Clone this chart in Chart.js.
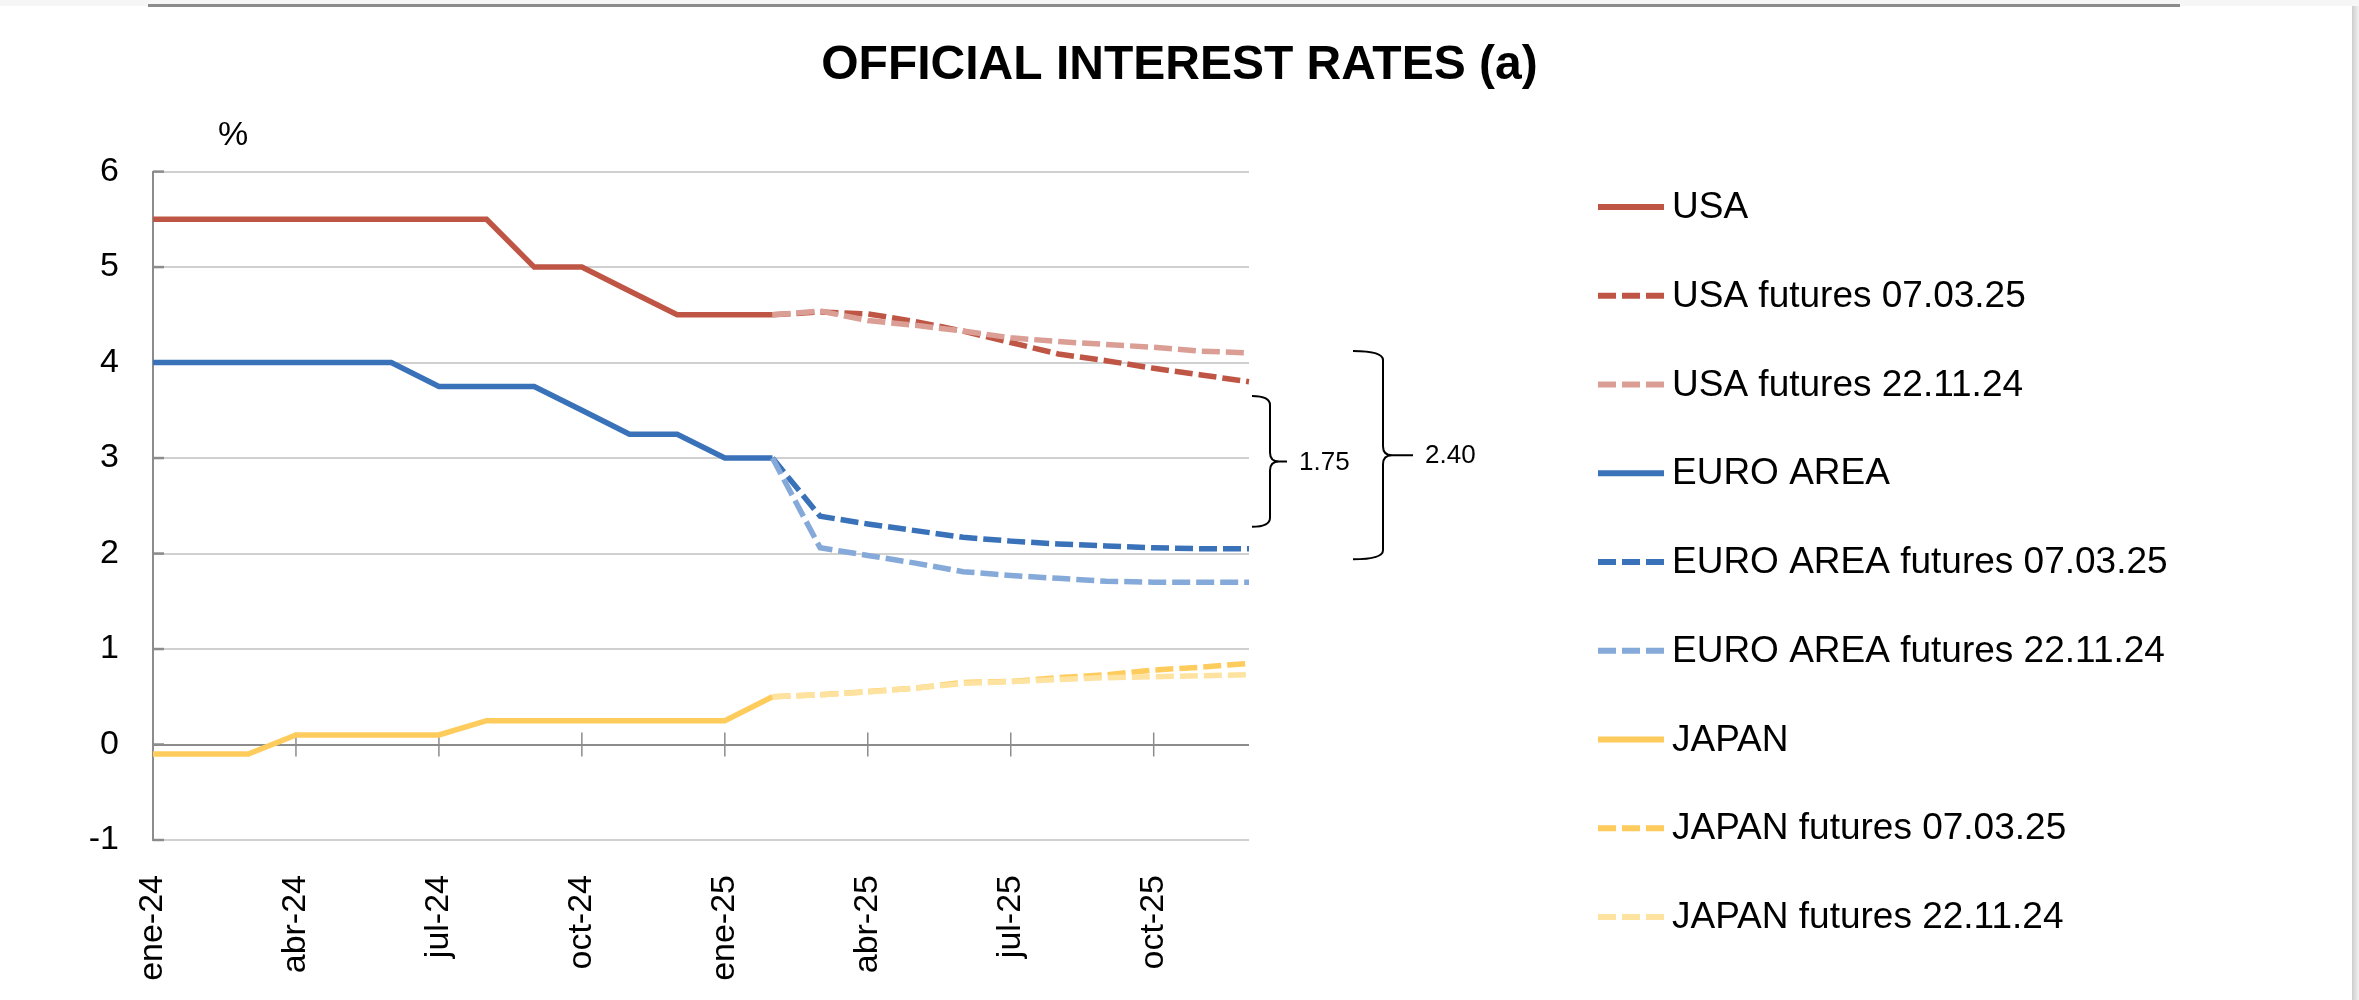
<!DOCTYPE html>
<html>
<head>
<meta charset="utf-8">
<script src="https://cdn.jsdelivr.net/npm/chart.js@4.4.1/dist/chart.umd.min.js"></script>
<style>
  html, body { margin: 0; padding: 0; background: #fff; }
  #wrap { width: 2359px; height: 1000px; }
</style>
</head>
<body>
<div id="wrap"><canvas id="chart" width="2359" height="1000"></canvas></div>
<script>
const months = ['ene-24', 'feb-24', 'mar-24', 'abr-24', 'may-24', 'jun-24', 'jul-24', 'ago-24', 'sep-24', 'oct-24', 'nov-24', 'dic-24',
                'ene-25', 'feb-25', 'mar-25', 'abr-25', 'may-25', 'jun-25', 'jul-25', 'ago-25', 'sep-25', 'oct-25', 'nov-25', 'dic-25'];

// spot rates, jan-24 .. feb-25
const usa   = [5.5, 5.5, 5.5, 5.5, 5.5, 5.5, 5.5, 5.5, 5.0, 5.0, 4.75, 4.5, 4.5, 4.5];
const euro  = [4.0, 4.0, 4.0, 4.0, 4.0, 4.0, 3.75, 3.75, 3.75, 3.5, 3.25, 3.25, 3.0, 3.0];
const japan = [-0.1, -0.1, -0.1, 0.1, 0.1, 0.1, 0.1, 0.25, 0.25, 0.25, 0.25, 0.25, 0.25, 0.5];

// futures curves, feb-25 .. dic-25
const usa_fut_0703   = [4.50, 4.53, 4.51, 4.43, 4.33, 4.21, 4.09, 4.02, 3.94, 3.87, 3.80];
const usa_fut_2211   = [4.50, 4.54, 4.44, 4.39, 4.33, 4.26, 4.22, 4.19, 4.16, 4.12, 4.10];
const euro_fut_0703  = [3.00, 2.39, 2.31, 2.24, 2.17, 2.13, 2.10, 2.08, 2.06, 2.05, 2.05];
const euro_fut_2211  = [3.00, 2.06, 1.98, 1.90, 1.81, 1.77, 1.74, 1.71, 1.70, 1.70, 1.70];
const japan_fut_0703 = [0.50, 0.52, 0.555, 0.59, 0.65, 0.66, 0.70, 0.73, 0.78, 0.81, 0.85];
const japan_fut_2211 = [0.50, 0.52, 0.55, 0.59, 0.64, 0.66, 0.68, 0.70, 0.71, 0.72, 0.73];

// spread annotations on the right of the plot
const spread_labels = ['1.75', '2.40'];

const FONT = '"Liberation Sans", Arial, Helvetica, sans-serif';
const futures_start = months.indexOf('feb-25');

const pad_futures = (values) => Array(futures_start).fill(null).concat(values);

const series = [
  { label: 'USA', data: usa, color: '#BF5645', dashed: false },
  { label: 'USA futures 07.03.25', data: pad_futures(usa_fut_0703), color: '#BF5645', dashed: true },
  { label: 'USA futures 22.11.24', data: pad_futures(usa_fut_2211), color: '#DA9E95', dashed: true },
  { label: 'EURO AREA', data: euro, color: '#3A72B9', dashed: false },
  { label: 'EURO AREA futures 07.03.25', data: pad_futures(euro_fut_0703), color: '#3A72B9', dashed: true },
  { label: 'EURO AREA futures 22.11.24', data: pad_futures(euro_fut_2211), color: '#85AAD9', dashed: true },
  { label: 'JAPAN', data: japan, color: '#FECC5C', dashed: false },
  { label: 'JAPAN futures 07.03.25', data: pad_futures(japan_fut_0703), color: '#FECC5C', dashed: true },
  { label: 'JAPAN futures 22.11.24', data: pad_futures(japan_fut_2211), color: '#FEE29F', dashed: true },
];

const datasets = series.map((s, i) => ({
  label: s.label,
  data: s.data,
  borderColor: s.color,
  backgroundColor: s.color,
  borderWidth: 5.5,
  borderDash: s.dashed ? [18, 6] : [],
  borderCapStyle: 'butt',
  pointRadius: 0,
  tension: 0,
  fill: false,
  spanGaps: false,
  order: -i,  // later series on top, like the original
}));

const draw_brace = (ctx, x_left, x_spine, x_tip, y_top, y_bottom) => {
  const y_mid = (y_top + y_bottom) / 2;
  const r = 9;
  ctx.beginPath();
  ctx.moveTo(x_left, y_top);
  ctx.quadraticCurveTo(x_spine, y_top, x_spine, y_top + r);
  ctx.lineTo(x_spine, y_mid - r);
  ctx.quadraticCurveTo(x_spine, y_mid, x_spine + r, y_mid);
  ctx.lineTo(x_tip, y_mid);
  ctx.moveTo(x_spine + r, y_mid);
  ctx.quadraticCurveTo(x_spine, y_mid, x_spine, y_mid + r);
  ctx.lineTo(x_spine, y_bottom - r);
  ctx.quadraticCurveTo(x_spine, y_bottom, x_left, y_bottom);
  ctx.stroke();
};

const decor = {
  id: 'decor',
  beforeDraw(chart) {
    const { ctx, width, height } = chart;
    ctx.save();
    ctx.fillStyle = '#f6f6f6';
    ctx.fillRect(0, 0, width, height);
    ctx.fillStyle = '#ffffff';
    ctx.fillRect(0, 6, 2352, height - 6);
    const shade = ctx.createLinearGradient(2352, 0, width, 0);
    shade.addColorStop(0, '#cdcdcd');
    shade.addColorStop(1, '#f2f2f2');
    ctx.fillStyle = shade;
    ctx.fillRect(2352, 6, width - 2352, height - 6);
    ctx.fillStyle = '#8c8c8c';
    ctx.fillRect(148, 4, 2032, 3);
    ctx.restore();
  },
  beforeDatasetsDraw(chart) {
    const { ctx, chartArea: area, scales: { x, y } } = chart;
    ctx.save();
    ctx.strokeStyle = '#8c8c8c';
    ctx.lineWidth = 2.5;
    for (let v = y.min; v <= y.max; v++) {
      const py = y.getPixelForValue(v);
      ctx.beginPath();
      ctx.moveTo(area.left, py);
      ctx.lineTo(area.left + 11, py);
      ctx.stroke();
    }
    const y0 = y.getPixelForValue(0);
    ctx.lineWidth = 1.5;
    months.forEach((m, i) => {
      if (i === 0 || i % 3 !== 0) return;
      const px = x.getPixelForValue(i);
      ctx.beginPath();
      ctx.moveTo(px, y0 - 12);
      ctx.lineTo(px, y0 + 12);
      ctx.stroke();
    });
    ctx.restore();
  },
  afterDraw(chart) {
    const { ctx, chartArea: area, scales: { y } } = chart;
    ctx.save();

    // unit label
    ctx.fillStyle = '#000';
    ctx.font = `34px ${FONT}`;
    ctx.textAlign = 'center';
    ctx.textBaseline = 'middle';
    ctx.fillText('%', 233, 136);

    // spread braces
    ctx.strokeStyle = '#000';
    ctx.lineWidth = 2;
    ctx.font = `26px ${FONT}`;
    ctx.textAlign = 'left';
    const braces = [
      { top: 3.65, bottom: 2.28, left: 3, spine: 21, tip: 38 },
      { top: 4.12, bottom: 1.94, left: 104, spine: 134, tip: 164 },
    ];
    braces.forEach((b, i) => {
      const y_top = y.getPixelForValue(b.top);
      const y_bottom = y.getPixelForValue(b.bottom);
      draw_brace(ctx, area.right + b.left, area.right + b.spine, area.right + b.tip, y_top, y_bottom);
      ctx.fillText(spread_labels[i], area.right + b.tip + 12, (y_top + y_bottom) / 2 + 1);
    });

    // legend
    ctx.font = `37px ${FONT}`;
    chart.data.datasets.forEach((ds, i) => {
      const cy = 207 + i * 88.75;
      ctx.strokeStyle = ds.borderColor;
      ctx.lineWidth = 6;
      ctx.lineCap = 'butt';
      ctx.setLineDash(ds.borderDash);
      ctx.beginPath();
      ctx.moveTo(1598, cy);
      ctx.lineTo(1664, cy);
      ctx.stroke();
      ctx.setLineDash([]);
      ctx.fillStyle = '#000';
      ctx.fillText(ds.label, 1672, cy + 1);
    });
    ctx.restore();
  }
};

const ctx = document.getElementById('chart').getContext('2d');
const rates_chart = new Chart(ctx, {
  type: 'line',
  data: { labels: months, datasets: datasets },
  plugins: [decor],
  options: {
    responsive: false,
    animation: false,
    devicePixelRatio: 1,
    layout: { padding: 0 },
    plugins: {
      legend: { display: false },
      tooltip: { enabled: false },
      title: {
        display: true,
        text: 'OFFICIAL INTEREST RATES (a)',
        color: '#000',
        font: { family: FONT, size: 48, weight: 'bold' },
        padding: { top: 37, bottom: 77 },
      },
    },
    scales: {
      x: {
        type: 'category',
        offset: false,
        grid: { display: false },
        border: { display: false },
        ticks: {
          autoSkip: false,
          minRotation: 90,
          maxRotation: 90,
          padding: 27,
          color: '#000',
          font: { family: FONT, size: 34 },
          callback: (value, index) => index % 3 === 0 ? months[index] : '',
        },
        afterFit: (scale) => { scale.height = 160; },
      },
      y: {
        min: -1,
        max: 6,
        ticks: { stepSize: 1, padding: 34, color: '#000', font: { family: FONT, size: 34 } },
        grid: {
          color: (c) => c.tick && c.tick.value === 0 ? '#8c8c8c' : '#d0d0d0',
          lineWidth: 2,
          drawTicks: false,
        },
        border: { display: true, color: '#8c8c8c', width: 2 },
        afterFit: (scale) => { scale.width = 153; },
      },
      gap: {
        type: 'linear',
        position: 'right',
        grid: { display: false },
        border: { display: false },
        ticks: { display: false },
        afterFit: (scale) => { scale.width = 1110; },
      },
    },
  },
});
</script>
</body>
</html>
